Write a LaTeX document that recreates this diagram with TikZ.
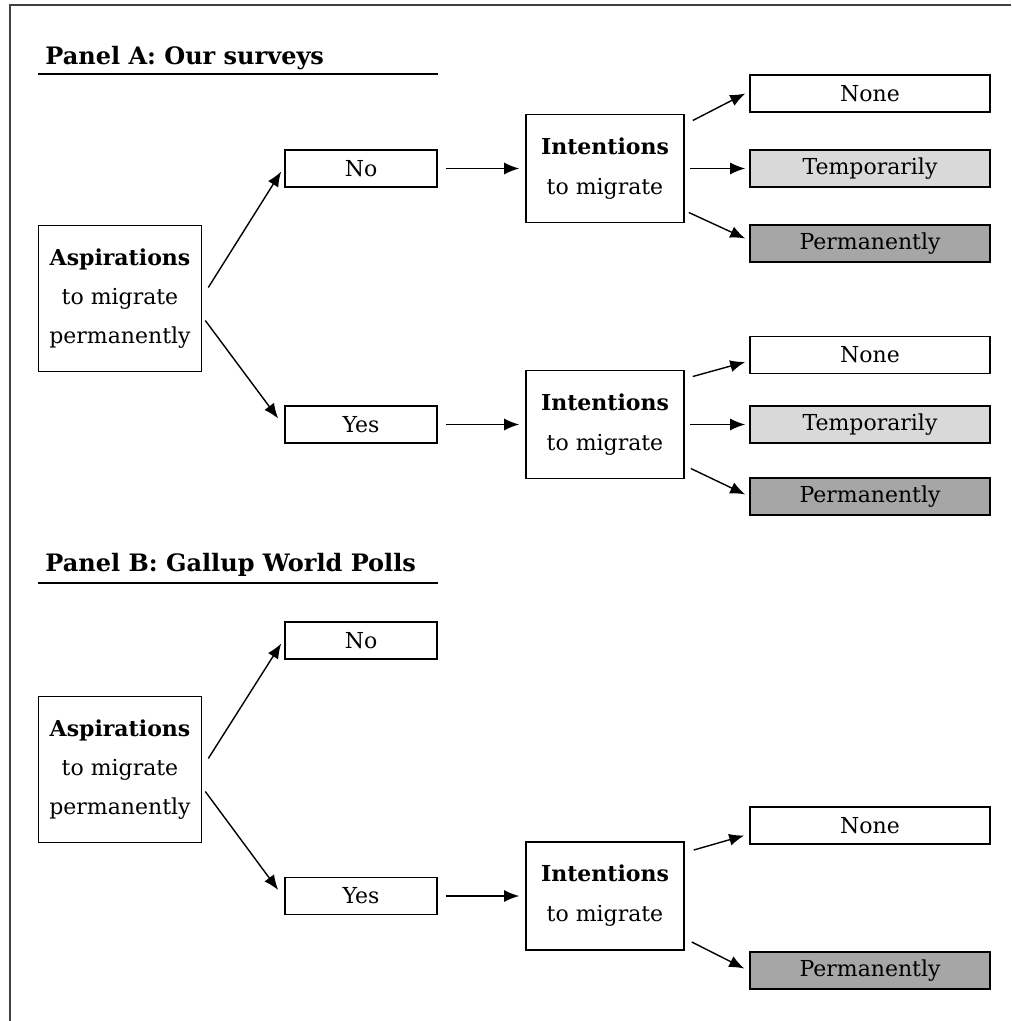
\documentclass[tikz,border=0pt]{standalone}
\usepackage{fontspec}
\setmainfont{DejaVu Serif}
\usetikzlibrary{arrows.meta}

\definecolor{tempfill}{gray}{0.85}
\definecolor{permfill}{gray}{0.65}

\tikzset{
  box/.style={draw, line width=0.8pt, inner sep=0pt, align=center},
  aspbox/.style={box, minimum width=81.5pt, minimum height=73pt,
    font=\fontsize{11}{19.5}\selectfont},
  answer/.style={box, minimum width=76pt, minimum height=18.5pt},
  intbox/.style={box, minimum width=79pt, minimum height=54pt,
    font=\fontsize{11}{20}\selectfont},
  outcome/.style={box, minimum width=120pt, minimum height=18.5pt},
  arr/.style={-{Latex[length=7.5pt,width=6pt]}, line width=0.7pt},
  paneltitle/.style={anchor=base west, inner sep=0pt,
    font=\bfseries\fontsize{12}{14}\selectfont}
}

\begin{document}
\begin{tikzpicture}[x=0.5pt, y=-0.5pt, every node/.style={font=\fontsize{11}{13}\selectfont}]
  \useasboundingbox (0,0) rectangle (1011,1021);

  % Frame (top and left only)
  \draw[black!75, line width=1pt] (1011,5) -- (10,5) -- (10,1021);

  % Panel A
  \node[paneltitle] (titleA) at (45,65) {Panel A: Our surveys};
  \draw[line width=0.8pt] (38,74) -- (438,74);

  \node[aspbox] (aspA) at (120,298.5) {\textbf{Aspirations}\\to migrate\\permanently};
  \node[answer] (noA) at (361,168.5) {No};
  \node[answer] (yesA) at (361,424.5) {Yes};

  \node[intbox] (intA1) at (605,168.5) {\textbf{Intentions}\\to migrate};
  \node[intbox] (intA2) at (605,424.5) {\textbf{Intentions}\\to migrate};

  \node[outcome] (noneA1) at (870,93.5) {None};
  \node[outcome, fill=tempfill] (tempA1) at (870,168.5) {Temporarily};
  \node[outcome, fill=permfill] (permA1) at (870,243.5) {Permanently};

  \node[outcome] (noneA2) at (870,355) {None};
  \node[outcome, fill=tempfill] (tempA2) at (870,424.5) {Temporarily};
  \node[outcome, fill=permfill] (permA2) at (870,496.5) {Permanently};

  % Arrows, panel A
  \draw[arr] ([shift={(6,-11)}]aspA.east) -- ([shift={(-3,3)}]noA.west);
  \draw[arr] ([shift={(3,22)}]aspA.east) -- ([shift={(-6,-6)}]yesA.west);
  \draw[arr] ([xshift=4pt]noA.east) -- ([xshift=-3pt]intA1.west);
  \draw[arr] ([xshift=4pt]yesA.east) -- ([xshift=-3pt]intA2.west);

  \draw[arr] ([shift={(8,-48)}]intA1.east) -- ([shift={(-4,0)}]noneA1.west);
  \draw[arr] ([xshift=2.5pt]intA1.east) -- ([xshift=-2pt]tempA1.west);
  \draw[arr] ([shift={(4,44)}]intA1.east) -- ([shift={(-4,-5)}]permA1.west);

  \draw[arr] ([shift={(8,-48)}]intA2.east) -- ([shift={(-4,7)}]noneA2.west);
  \draw[arr] ([xshift=2.5pt]intA2.east) -- ([xshift=-2pt]tempA2.west);
  \draw[arr] ([shift={(6,44)}]intA2.east) -- ([shift={(-4,-2)}]permA2.west);

  % Panel B
  \node[paneltitle] (titleB) at (45,571) {Panel B: Gallup World Polls};
  \draw[line width=0.8pt] (38,583) -- (438,583);

  \node[aspbox] (aspB) at (120,769.5) {\textbf{Aspirations}\\to migrate\\permanently};
  \node[answer] (noB) at (361,640.5) {No};
  \node[answer] (yesB) at (361,896) {Yes};

  \node[intbox] (intB) at (605,896) {\textbf{Intentions}\\to migrate};

  \node[outcome] (noneB) at (870,825.5) {None};
  \node[outcome, fill=permfill] (permB) at (870,970.5) {Permanently};

  % Arrows, panel B
  \draw[arr] ([shift={(6,-11)}]aspB.east) -- ([shift={(-3,3)}]noB.west);
  \draw[arr] ([shift={(3,22)}]aspB.east) -- ([shift={(-6,-6)}]yesB.west);
  \draw[arr] ([xshift=4pt]yesB.east) -- ([xshift=-3pt]intB.west);

  \draw[arr] ([shift={(9,-46)}]intB.east) -- ([shift={(-5,10)}]noneB.west);
  \draw[arr] ([shift={(7,46)}]intB.east) -- ([shift={(-5,-2)}]permB.west);
\end{tikzpicture}
\end{document}
